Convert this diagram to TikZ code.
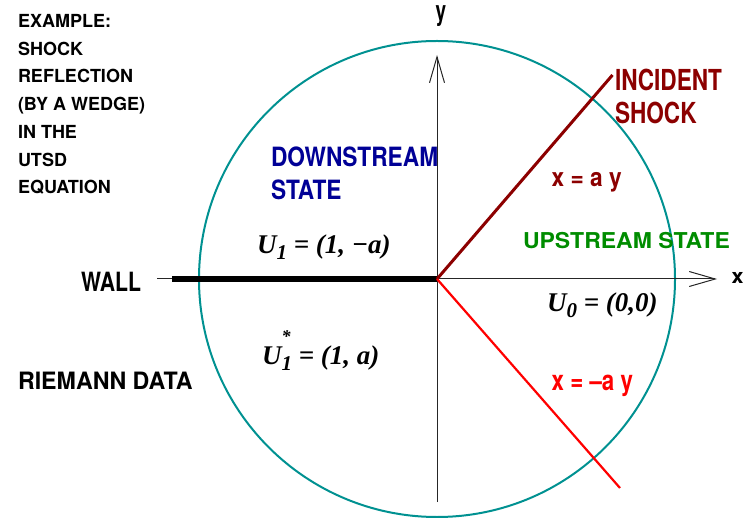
\documentclass[tikz,border=0pt]{standalone}
\usepackage{fontspec}
\usepackage{graphicx}
\setmainfont{Liberation Serif}
\newfontfamily\hv{TeX Gyre Heros}
\usetikzlibrary{arrows.meta}
\definecolor{circteal}{RGB}{0,145,145}
\definecolor{dred}{RGB}{140,0,0}
\definecolor{bred}{RGB}{255,0,0}
\definecolor{dgreen}{RGB}{0,140,0}
\definecolor{dblue}{RGB}{0,0,150}
\newcommand\hvs[3]{\scalebox{1}[#2]{\hv\bfseries\fontsize{#1}{#1}\selectfont #3}}
\newcommand\mth[1]{{\bfseries\itshape\fontsize{27}{27}\selectfont #1}}
\newcommand\sub[1]{\raisebox{-6pt}{\fontsize{21}{21}\selectfont #1}}
\tikzset{
  lab/.style={inner sep=0pt, outer sep=0pt, anchor=base west},
  axisline/.style={line width=1pt, black!85},
  axarrow/.style={-{Straight Barb[length=26pt,width=15pt,line width=1pt]}},
}
\begin{document}
\begin{tikzpicture}[x=1pt,y=-1pt]
\useasboundingbox (0,0) rectangle (749,518);
\coordinate (O) at (437,279);
\coordinate (xl) at (157,279);
\coordinate (xr) at (717,279);
\coordinate (yb) at (437,502);
\coordinate (yt) at (437,55);
\coordinate (wl) at (172,279);
\coordinate (inc) at (612.5,75);
\coordinate (ref) at (620,488);
% circle
\draw[circteal, line width=2pt] (O) circle[radius=238pt];
% axes
\draw[axisline] (xl) -- (O);
\draw[axisline, axarrow] (O) -- (xr);
\draw[axisline] (yb) -- (O);
\draw[axisline, axarrow] (O) -- (yt);
% wall
\draw[black, line width=5.5pt] (wl) -- (O);
% shocks
\draw[dred, line width=3pt] (O) -- (inc);
\draw[bred, line width=2.2pt] (O) -- (ref);
% axis labels
\node[inner sep=0pt, anchor=base] (ylab) at (441,20.7) {\hvs{19}{1.45}{y}};
\node[lab] (xlab) at (731.5,283.3) {\hvs{21.5}{0.95}{x}};
% example text
\foreach \t [count=\i] in {EXAMPLE:,SHOCK,REFLECTION,(BY A WEDGE),IN THE,UTSD,EQUATION}
  \node[lab] (ex\i) at (18,{27.5+27.75*(\i-1)}) {\hvs{18}{1.0}{\t}};
% region labels
\node[lab, text=dblue] (down1) at (271,167) {\hvs{22.7}{1.17}{DOWNSTREAM}};
\node[lab, text=dblue] (down2) at (271,200) {\hvs{22.7}{1.17}{STATE}};
\node[lab, text=dgreen] (up) at (523,248.3) {\hvs{23}{0.95}{UPSTREAM STATE}};
\node[lab, text=dred] (inc1) at (615,90.7) {\hvs{22.6}{1.28}{INCIDENT}};
\node[lab, text=dred] (inc2) at (615,123.3) {\hvs{22.6}{1.28}{SHOCK}};
\node[lab, text=dred] (eqa) at (551.7,186.7) {\hvs{22.7}{1.13}{x = a y}};
\node[lab, text=bred] (eqb) at (551.7,390.7) {\hvs{22.3}{1.26}{x = –a y}};
\node[lab] (wall) at (81,291.7) {\hvs{21.2}{1.25}{WALL}};
\node[lab] (riem) at (18,389.3) {\hvs{23.2}{1.03}{RIEMANN DATA}};
% math labels
\node[lab] (u1) at (257,253.3) {\mth{U\sub{1} = (1, −a)}};
\node[lab] (u1s) at (262,364) {\mth{U\rlap{\raisebox{22pt}{\fontsize{18}{18}\selectfont *}}\sub{1} = (1, a)}};
\node[lab] (u0) at (547,311.7) {\mth{U\sub{0} = (0,0)}};
\end{tikzpicture}
\end{document}
